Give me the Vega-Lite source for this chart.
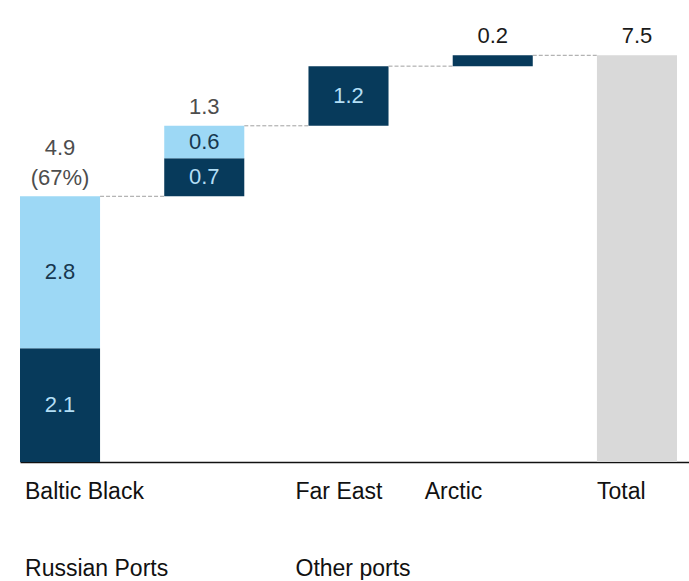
{
  "$schema": "https://vega.github.io/schema/vega-lite/v6.json",
  "width": 669,
  "height": 462,
  "padding": {"left": 20, "right": 0, "top": 0, "bottom": 0},
  "background": "white",
  "config": {"view": {"stroke": null}, "font": "Liberation Sans"},
  "datasets": {
    "segments": [
      {"cat": "Baltic", "seg": "dark", "start": 0, "end": 2.1, "label": "2.1"},
      {"cat": "Baltic", "seg": "light", "start": 2.1, "end": 4.9, "label": "2.8"},
      {"cat": "Black", "seg": "dark", "start": 4.9, "end": 5.6, "label": "0.7"},
      {"cat": "Black", "seg": "light", "start": 5.6, "end": 6.2, "label": "0.6"},
      {"cat": "Far East", "seg": "dark", "start": 6.2, "end": 7.3, "label": "1.2"},
      {"cat": "Arctic", "seg": "dark", "start": 7.3, "end": 7.5, "label": ""},
      {"cat": "Total", "seg": "total", "start": 0, "end": 7.5, "label": ""}
    ],
    "tops": [
      {"cat": "Baltic", "top": 4.9, "text": "4.9\n(67%)"},
      {"cat": "Black", "top": 6.2, "text": "1.3"},
      {"cat": "Arctic", "top": 7.5, "text": "0.2"},
      {"cat": "Total", "top": 7.5, "text": "7.5"}
    ],
    "links": [
      {"cat": "Baltic", "next": "Black", "level": 4.9},
      {"cat": "Black", "next": "Far East", "level": 6.2},
      {"cat": "Far East", "next": "Arctic", "level": 7.3},
      {"cat": "Arctic", "next": "Total", "level": 7.5}
    ]
  },
  "layer": [
    {
      "data": {"name": "segments"},
      "mark": {"type": "bar", "cornerRadius": 0},
      "encoding": {
        "x": {
          "field": "cat",
          "type": "nominal",
          "scale": {"type": "band", "domain": ["Baltic", "Black", "Far East", "Arctic", "Total"], "paddingInner": 0.445, "paddingOuter": 0.0416, "align": 0},
          "axis": {
            "title": null,
            "domain": true,
            "domainColor": "#111111",
            "domainWidth": 1.5,
            "ticks": false,
            "grid": false,
            "labelAngle": 0,
            "labelAlign": "left",
            "labelBaseline": "top",
            "labelPadding": 18,
            "labelFont": "Liberation Sans",
            "labelFontSize": 23,
            "labelColor": "#111111",
            "labelLineHeight": 77,
            "labelLimit": 0,
            "labelOverlap": false,
            "labelBound": false,
            "labelFlush": false,
            "labelExpr": "datum.value == 'Baltic' ? ['Baltic Black', 'Russian Ports'] : datum.value == 'Far East' ? ['Far East', 'Other ports'] : datum.value == 'Black' ? '' : datum.value",
            "labelOffset": {
              "condition": [
                {"test": "datum.value == 'Baltic'", "value": -35},
                {"test": "datum.value == 'Far East'", "value": -53},
                {"test": "datum.value == 'Arctic'", "value": -68}
              ],
              "value": -40
            }
          }
        },
        "y": {"field": "start", "type": "quantitative", "scale": {"domain": [0, 8.52], "nice": false}, "axis": null},
        "y2": {"field": "end"},
        "color": {
          "field": "seg",
          "type": "nominal",
          "scale": {"domain": ["dark", "light", "total"], "range": ["#073a5b", "#9dd8f5", "#d9d9d9"]},
          "legend": null
        }
      }
    },
    {
      "data": {"name": "links"},
      "mark": {"type": "rule", "color": "#a0a0a0", "strokeWidth": 1, "strokeDash": [4, 2]},
      "encoding": {
        "x": {"field": "cat", "type": "nominal", "bandPosition": 1},
        "x2": {"field": "next", "bandPosition": 0},
        "y": {"field": "level", "type": "quantitative"}
      }
    },
    {
      "data": {"name": "segments"},
      "transform": [{"calculate": "(datum.start + datum.end) / 2", "as": "mid"}],
      "mark": {"type": "text", "fontSize": 22, "baseline": "middle", "align": "center", "font": "Liberation Sans"},
      "encoding": {
        "x": {"field": "cat", "type": "nominal", "bandPosition": 0.5},
        "y": {"field": "mid", "type": "quantitative"},
        "text": {"field": "label"},
        "color": {
          "condition": {"test": "datum.seg == 'dark'", "value": "#b3def5"},
          "value": "#17374f"
        }
      }
    },
    {
      "data": {"name": "tops"},
      "transform": [{"filter": "datum.cat != 'Baltic'"}],
      "mark": {"type": "text", "fontSize": 22, "baseline": "bottom", "align": "center", "dy": -7, "font": "Liberation Sans"},
      "encoding": {
        "x": {"field": "cat", "type": "nominal", "bandPosition": 0.5},
        "y": {"field": "top", "type": "quantitative"},
        "text": {"field": "text"},
        "color": {
          "condition": {"test": "datum.cat == 'Arctic' || datum.cat == 'Total'", "value": "#1a1a1a"},
          "value": "#4d4d4d"
        }
      }
    },
    {
      "data": {"name": "tops"},
      "transform": [{"filter": "datum.cat == 'Baltic'"}],
      "mark": {"type": "text", "fontSize": 22, "baseline": "bottom", "align": "center", "dy": -36, "lineBreak": "\n", "lineHeight": 30, "font": "Liberation Sans", "color": "#4d4d4d"},
      "encoding": {
        "x": {"field": "cat", "type": "nominal", "bandPosition": 0.5},
        "y": {"field": "top", "type": "quantitative"},
        "text": {"field": "text"}
      }
    }
  ]
}
